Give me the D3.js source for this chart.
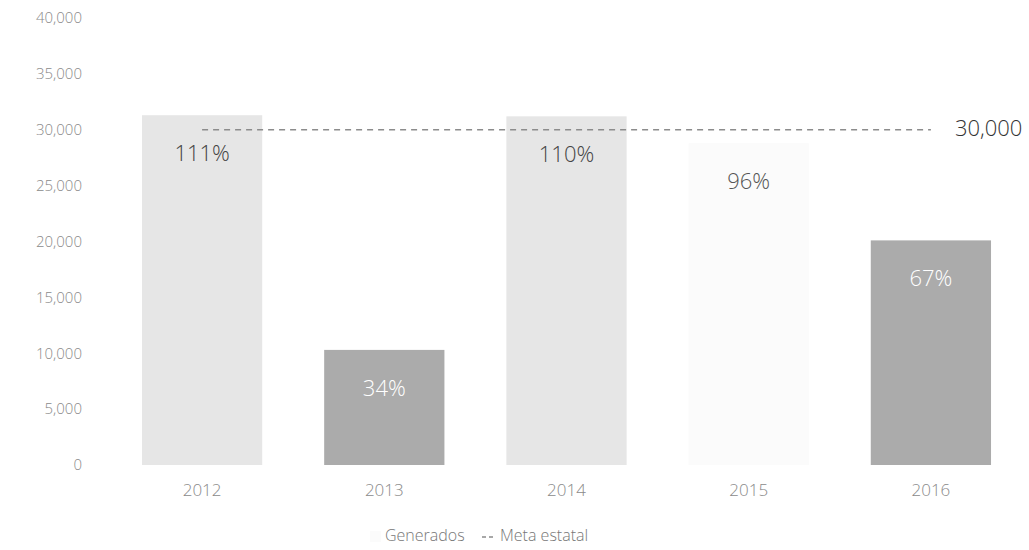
<!DOCTYPE html>
<html>
<head>
<meta charset="utf-8">
<script src="https://cdn.jsdelivr.net/npm/d3@7"></script>
<style>
  html, body { margin: 0; padding: 0; background: #ffffff; }
  svg { display: block; font-family: "Open Sans", "Noto Sans", sans-serif; }
</style>
</head>
<body>
<svg id="chart" width="1029" height="550"></svg>
<script>
// ---- data ----
const categories = ["2012", "2013", "2014", "2015", "2016"];
const generados = [31300, 10300, 31200, 28800, 20100];
const percentLabels = ["111%", "34%", "110%", "96%", "67%"];
const metaEstatal = [30000, 30000, 30000, 30000, 30000];
const yTicks = [0, 5000, 10000, 15000, 20000, 25000, 30000, 35000, 40000];
const barColors = ["#e6e6e6", "#ababab", "#e6e6e6", "#fbfbfb", "#ababab"];
const labelColors = ["#444444", "#ffffff", "#444444", "#555555", "#ffffff"];
const legendItems = ["Generados", "Meta estatal"];

const svg = d3.select("#chart");
const fmt = d3.format(",");

const x = d3.scaleBand().domain(categories).range([111, 1022]).paddingInner(0.34).paddingOuter(0.17);
const y = d3.scaleLinear().domain([0, 40000]).range([465, 18]);

// y axis (labels only)
const yAxis = d3.axisLeft(y).tickValues(yTicks).tickFormat(fmt).tickSize(0).tickPadding(0);
const gy = svg.append("g").attr("transform", "translate(82,0)").call(yAxis);
gy.select(".domain").remove();
gy.selectAll("text").attr("fill", "#8a8a8a").style("font-size", "15px").style("font-family", "'Open Sans', sans-serif").style("font-weight", "300");

// x axis (labels only)
const xAxis = d3.axisBottom(x).tickSize(0).tickPadding(0);
const gx = svg.append("g").attr("transform", "translate(0,484)").call(xAxis);
gx.select(".domain").remove();
gx.selectAll("text").attr("fill", "#8a8a8a").style("font-size", "17px").style("font-family", "'Open Sans', sans-serif").style("font-weight", "300");

// bars
const data = categories.map((c, i) => ({ c, v: generados[i], p: percentLabels[i], col: barColors[i], lc: labelColors[i] }));
svg.append("g").selectAll("rect").data(data).join("rect")
  .attr("x", d => x(d.c))
  .attr("y", d => y(d.v))
  .attr("width", x.bandwidth())
  .attr("height", d => y(0) - y(d.v))
  .attr("fill", d => d.col);

// percent labels
svg.append("g").selectAll("text").data(data).join("text")
  .attr("x", d => x(d.c) + x.bandwidth() / 2)
  .attr("y", d => y(d.v) + 40)
  .attr("text-anchor", "middle")
  .attr("dominant-baseline", "middle")
  .attr("fill", d => d.lc)
  .style("font-size", "22px")
  .style("font-weight", "300")
  .text(d => d.p);

// meta line
const lineData = categories.map((c, i) => ({ c, v: metaEstatal[i] }));
const line = d3.line().x(d => x(d.c) + x.bandwidth() / 2).y(d => y(d.v));
svg.append("path").datum(lineData)
  .attr("d", line)
  .attr("fill", "none")
  .attr("stroke", "#8c8c8c")
  .attr("stroke-width", 1.5)
  .attr("stroke-dasharray", "6,5");

const last = lineData[lineData.length - 1];
svg.append("text")
  .attr("x", x(last.c) + x.bandwidth() / 2 + 24)
  .attr("y", y(last.v))
  .attr("dominant-baseline", "middle")
  .attr("fill", "#333333")
  .style("font-size", "22px")
  .style("font-weight", "300")
  .text(fmt(last.v));

// legend
const lg = svg.append("g").attr("transform", "translate(0,537)");
lg.append("rect").attr("x", 370).attr("y", -6).attr("width", 11).attr("height", 11).attr("fill", "#fbfbfb");
lg.append("text").attr("x", 385).attr("y", 0).attr("dominant-baseline", "middle")
  .attr("fill", "#777777").style("font-size", "16px").style("font-weight", "300").text(legendItems[0]);
lg.append("line").attr("x1", 482).attr("x2", 496).attr("y1", 0).attr("y2", 0)
  .attr("stroke", "#8c8c8c").attr("stroke-width", 1.5).attr("stroke-dasharray", "4,3");
lg.append("text").attr("x", 500).attr("y", 0).attr("dominant-baseline", "middle")
  .attr("fill", "#777777").style("font-size", "16px").style("font-weight", "300").text(legendItems[1]);
</script>
</body>
</html>
